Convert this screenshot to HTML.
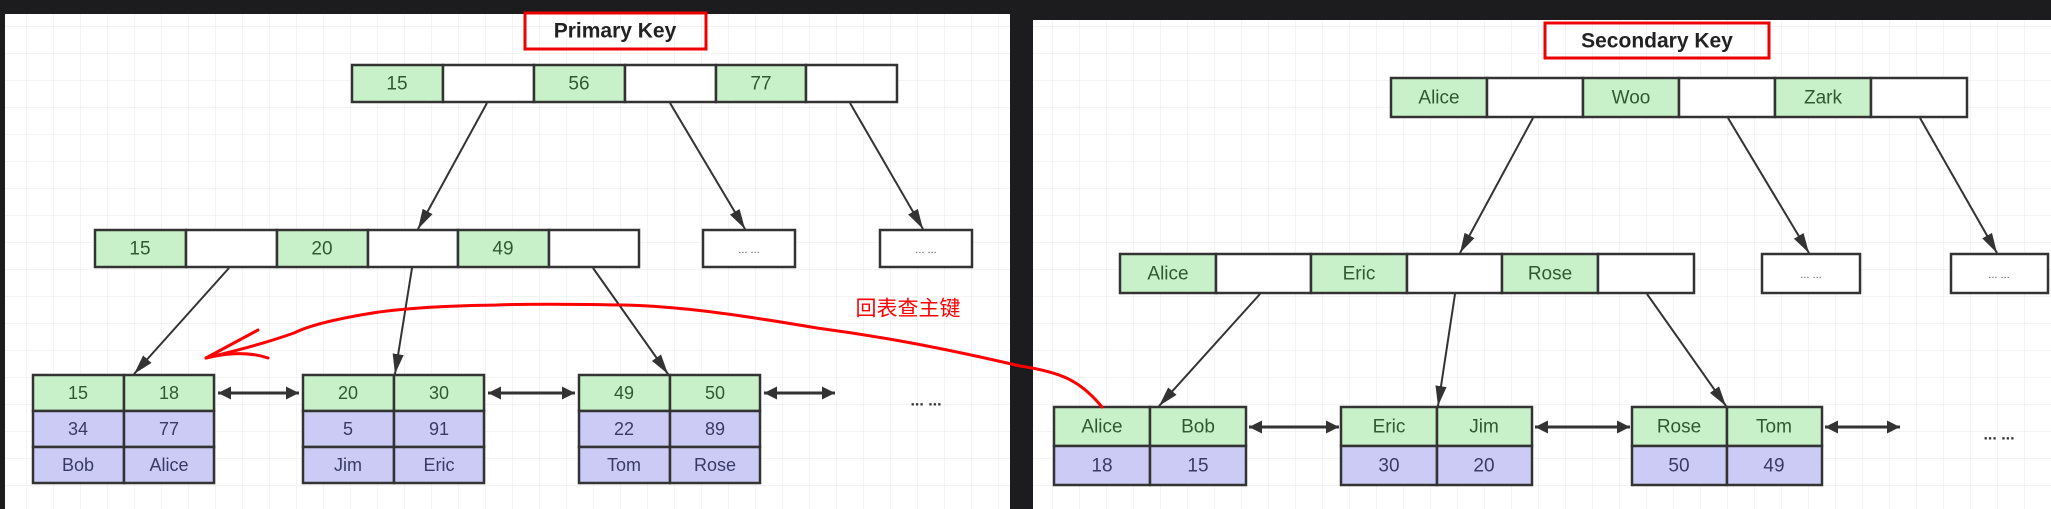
<!DOCTYPE html>
<html><head><meta charset="utf-8"><style>
html,body{margin:0;padding:0;background:#1c1c1e;}
svg{display:block}
text{font-family:"Liberation Sans","Noto Sans CJK SC",sans-serif;text-anchor:middle;dominant-baseline:central}
</style></head><body>
<svg width="2051" height="509" viewBox="0 0 2051 509" xmlns="http://www.w3.org/2000/svg">
<defs>
<pattern id="g" width="27" height="27" patternUnits="userSpaceOnUse">
<path d="M27 0V27M0 27H27" stroke="#e8e8e8" stroke-width="1" fill="none"/>
</pattern>
<marker id="a" viewBox="0 0 10 10" refX="10" refY="5" markerWidth="13" markerHeight="13" markerUnits="userSpaceOnUse" orient="auto-start-reverse">
<path d="M0,0 L10,5 L0,10 z" fill="#333"/>
</marker>
<marker id="b" viewBox="0 0 10 10" refX="10" refY="5" markerWidth="20" markerHeight="20" markerUnits="userSpaceOnUse" orient="auto-start-reverse">
<path d="M0,2.2 L10,5 L0,7.8 z" fill="#333"/>
</marker>
</defs>
<rect x="0" y="0" width="2051" height="509" fill="#1c1c1e"/>
<rect x="5" y="14" width="1005" height="495" fill="#fff"/>
<rect x="5" y="14" width="1005" height="495" fill="url(#g)"/>
<rect x="1033" y="20" width="1018" height="489" fill="#fff"/>
<rect x="1033" y="20" width="1018" height="489" fill="url(#g)"/>

<g stroke="#333" stroke-width="2.5">
<rect x="525" y="13" width="181" height="36" fill="none" stroke="#e00" stroke-width="3"/>
<rect x="352" y="65" width="91" height="37" fill="#c9f1c9"/>
<rect x="443" y="65" width="91" height="37" fill="#fff"/>
<rect x="534" y="65" width="91" height="37" fill="#c9f1c9"/>
<rect x="625" y="65" width="91" height="37" fill="#fff"/>
<rect x="716" y="65" width="90" height="37" fill="#c9f1c9"/>
<rect x="806" y="65" width="91" height="37" fill="#fff"/>
<rect x="95" y="230" width="91" height="37" fill="#c9f1c9"/>
<rect x="186" y="230" width="91" height="37" fill="#fff"/>
<rect x="277" y="230" width="91" height="37" fill="#c9f1c9"/>
<rect x="368" y="230" width="90" height="37" fill="#fff"/>
<rect x="458" y="230" width="91" height="37" fill="#c9f1c9"/>
<rect x="549" y="230" width="90" height="37" fill="#fff"/>
<rect x="703" y="230" width="92" height="37" fill="#fff"/>
<rect x="880" y="230" width="92" height="37" fill="#fff"/>
<rect x="33" y="375" width="91" height="36" fill="#c9f1c9"/><rect x="124" y="375" width="90" height="36" fill="#c9f1c9"/>
<rect x="33" y="411" width="91" height="36" fill="#cbcbf6"/><rect x="124" y="411" width="90" height="36" fill="#cbcbf6"/>
<rect x="33" y="447" width="91" height="36" fill="#cbcbf6"/><rect x="124" y="447" width="90" height="36" fill="#cbcbf6"/>
<rect x="303" y="375" width="91" height="36" fill="#c9f1c9"/><rect x="394" y="375" width="90" height="36" fill="#c9f1c9"/>
<rect x="303" y="411" width="91" height="36" fill="#cbcbf6"/><rect x="394" y="411" width="90" height="36" fill="#cbcbf6"/>
<rect x="303" y="447" width="91" height="36" fill="#cbcbf6"/><rect x="394" y="447" width="90" height="36" fill="#cbcbf6"/>
<rect x="579" y="375" width="91" height="36" fill="#c9f1c9"/><rect x="670" y="375" width="90" height="36" fill="#c9f1c9"/>
<rect x="579" y="411" width="91" height="36" fill="#cbcbf6"/><rect x="670" y="411" width="90" height="36" fill="#cbcbf6"/>
<rect x="579" y="447" width="91" height="36" fill="#cbcbf6"/><rect x="670" y="447" width="90" height="36" fill="#cbcbf6"/>
<g stroke-width="2" fill="none">
<line x1="487" y1="103" x2="418" y2="229" marker-end="url(#b)"/>
<line x1="670" y1="103" x2="745" y2="229" marker-end="url(#b)"/>
<line x1="850" y1="103" x2="923" y2="229" marker-end="url(#b)"/>
<line x1="229" y1="268" x2="134" y2="374" marker-end="url(#b)"/>
<line x1="412" y1="268" x2="395" y2="374" marker-end="url(#b)"/>
<line x1="593" y1="268" x2="668" y2="374" marker-end="url(#b)"/>
<line x1="218" y1="393" x2="299" y2="393" stroke-width="3" marker-start="url(#a)" marker-end="url(#a)"/>
<line x1="488" y1="393" x2="575" y2="393" stroke-width="3" marker-start="url(#a)" marker-end="url(#a)"/>
<line x1="764" y1="393" x2="835" y2="393" stroke-width="3" marker-start="url(#a)" marker-end="url(#a)"/>
</g>

<rect x="1545" y="23" width="224" height="35" fill="none" stroke="#e00" stroke-width="3"/>
<rect x="1391" y="78" width="96" height="39" fill="#c9f1c9"/>
<rect x="1487" y="78" width="96" height="39" fill="#fff"/>
<rect x="1583" y="78" width="96" height="39" fill="#c9f1c9"/>
<rect x="1679" y="78" width="96" height="39" fill="#fff"/>
<rect x="1775" y="78" width="96" height="39" fill="#c9f1c9"/>
<rect x="1871" y="78" width="96" height="39" fill="#fff"/>
<rect x="1120" y="254" width="96" height="39" fill="#c9f1c9"/>
<rect x="1216" y="254" width="95" height="39" fill="#fff"/>
<rect x="1311" y="254" width="96" height="39" fill="#c9f1c9"/>
<rect x="1407" y="254" width="95" height="39" fill="#fff"/>
<rect x="1502" y="254" width="96" height="39" fill="#c9f1c9"/>
<rect x="1598" y="254" width="96" height="39" fill="#fff"/>
<rect x="1762" y="254" width="98" height="39" fill="#fff"/>
<rect x="1951" y="254" width="97" height="39" fill="#fff"/>
<rect x="1054" y="407" width="96" height="39" fill="#c9f1c9"/><rect x="1150" y="407" width="96" height="39" fill="#c9f1c9"/>
<rect x="1054" y="446" width="96" height="39" fill="#cbcbf6"/><rect x="1150" y="446" width="96" height="39" fill="#cbcbf6"/>
<rect x="1341" y="407" width="96" height="39" fill="#c9f1c9"/><rect x="1437" y="407" width="95" height="39" fill="#c9f1c9"/>
<rect x="1341" y="446" width="96" height="39" fill="#cbcbf6"/><rect x="1437" y="446" width="95" height="39" fill="#cbcbf6"/>
<rect x="1632" y="407" width="95" height="39" fill="#c9f1c9"/><rect x="1727" y="407" width="95" height="39" fill="#c9f1c9"/>
<rect x="1632" y="446" width="95" height="39" fill="#cbcbf6"/><rect x="1727" y="446" width="95" height="39" fill="#cbcbf6"/>
<g stroke-width="2" fill="none">
<line x1="1533" y1="118" x2="1460" y2="253" marker-end="url(#b)"/>
<line x1="1728" y1="118" x2="1809" y2="253" marker-end="url(#b)"/>
<line x1="1920" y1="118" x2="1997" y2="253" marker-end="url(#b)"/>
<line x1="1260" y1="294" x2="1159" y2="406" marker-end="url(#b)"/>
<line x1="1455" y1="294" x2="1438" y2="406" marker-end="url(#b)"/>
<line x1="1647" y1="294" x2="1726" y2="406" marker-end="url(#b)"/>
<line x1="1249" y1="427" x2="1339" y2="427" stroke-width="3" marker-start="url(#a)" marker-end="url(#a)"/>
<line x1="1535" y1="427" x2="1630" y2="427" stroke-width="3" marker-start="url(#a)" marker-end="url(#a)"/>
<line x1="1825" y1="427" x2="1900" y2="427" stroke-width="3" marker-start="url(#a)" marker-end="url(#a)"/>
</g>
</g>

<g fill="none" stroke="#f00" stroke-width="3" stroke-linecap="round">
<path d="M1102,407 C1080,380 1060,372 1020,366 C930,345 870,335 817,328 C740,315 680,306 621,305 C560,304 520,304 497,305 C440,306 410,308 379,312 C340,318 310,325 294,333 C260,345 230,352 206,358"/>
<path d="M206,358 L258,330"/>
<path d="M206,358 C230,352 250,352 268,358"/>
</g>
<text x="908" y="309" font-size="21" fill="#f00">回表查主键</text>

<g font-size="19" fill="#2f5a2f">
<text x="615" y="31" font-size="21" font-weight="bold" fill="#222">Primary Key</text>
<text x="397" y="84">15</text><text x="579" y="84">56</text><text x="761" y="84">77</text>
<text x="140" y="249">15</text><text x="322" y="249">20</text><text x="503" y="249">49</text>
<text x="749" y="250" font-size="11" fill="#555">... ...</text><text x="926" y="250" font-size="11" fill="#555">... ...</text>
<text x="78" y="393" font-size="18">15</text><text x="169" y="393" font-size="18">18</text>
<text x="348" y="393" font-size="18">20</text><text x="439" y="393" font-size="18">30</text>
<text x="624" y="393" font-size="18">49</text><text x="715" y="393" font-size="18">50</text>
</g>
<g font-size="18" fill="#3a3a66">
<text x="78" y="429">34</text><text x="169" y="429">77</text>
<text x="78" y="465">Bob</text><text x="169" y="465">Alice</text>
<text x="348" y="429">5</text><text x="439" y="429">91</text>
<text x="348" y="465">Jim</text><text x="439" y="465">Eric</text>
<text x="624" y="429">22</text><text x="715" y="429">89</text>
<text x="624" y="465">Tom</text><text x="715" y="465">Rose</text>
</g>
<text x="926" y="401" font-size="16" font-weight="bold" fill="#333">... ...</text>

<g font-size="19" fill="#2f5a2f">
<text x="1657" y="41" font-size="21" font-weight="bold" fill="#222">Secondary Key</text>
<text x="1439" y="98">Alice</text><text x="1631" y="98">Woo</text><text x="1823" y="98">Zark</text>
<text x="1168" y="274">Alice</text><text x="1359" y="274">Eric</text><text x="1550" y="274">Rose</text>
<text x="1811" y="275" font-size="11" fill="#555">... ...</text><text x="1999" y="275" font-size="11" fill="#555">... ...</text>
<text x="1102" y="427">Alice</text><text x="1198" y="427">Bob</text>
<text x="1389" y="427">Eric</text><text x="1484" y="427">Jim</text>
<text x="1679" y="427">Rose</text><text x="1774" y="427">Tom</text>
</g>
<g font-size="19" fill="#3a3a66">
<text x="1102" y="466">18</text><text x="1198" y="466">15</text>
<text x="1389" y="466">30</text><text x="1484" y="466">20</text>
<text x="1679" y="466">50</text><text x="1774" y="466">49</text>
</g>
<text x="1999" y="435" font-size="16" font-weight="bold" fill="#333">... ...</text>
</svg>
</body></html>
